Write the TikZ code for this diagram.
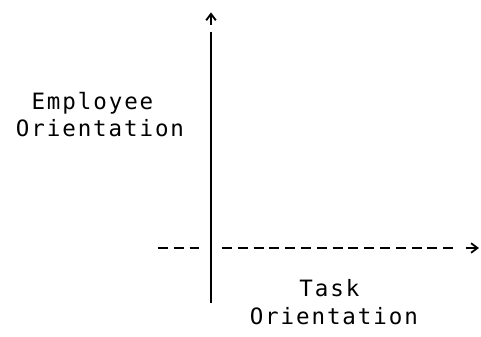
\documentclass[tikz,border=0pt]{standalone}
\usepackage{fontspec}
\newfontfamily\typefont[LetterSpace=8.5]{DejaVu Sans Mono}
\usetikzlibrary{arrows.meta}

\begin{document}
\begin{tikzpicture}[>={Straight Barb[length=1.6mm, width=2.4mm]}, line width=1.3pt,
  lbl/.style={font=\typefont\fontsize{16}{19}\selectfont, inner sep=0pt, anchor=base},
  axdash/.style={line width=1.8pt, dash pattern=on 0.25cm off 0.145cm}]
  \useasboundingbox (-5.275,-2.225) rectangle (6.75,6.2);

  % === AXES ===
  \coordinate (vbot) at (0,-1.375);
  \coordinate (vtop) at (0,5.4);
  \coordinate (vtip0) at (0,5.575);
  \coordinate (vtip) at (0,5.89);
  \draw (vbot) -- (vtop);
  \draw[->] (vtip0) -- (vtip);

  \coordinate (hl0) at (-1.325,0);
  \coordinate (hl1) at (-0.29,0);
  \coordinate (hr0) at (0.275,0);
  \coordinate (hr1) at (6.05,0);
  \coordinate (htip0) at (6.375,0);
  \coordinate (htip) at (6.7,0);
  \draw[axdash] (hl0) -- (hl1);
  \draw[axdash] (hr0) -- (hr1);
  \draw[->] (htip0) -- (htip);

  % === LABELS ===
  \node[lbl] (emp) at (-2.965,3.45) {Employee};
  \node[lbl] (empor) at (-2.775,2.775) {Orientation};
  \node[lbl] (task) at (2.96,-1.225) {Task};
  \node[lbl] (taskor) at (3.07,-1.925) {Orientation};
\end{tikzpicture}
\end{document}
